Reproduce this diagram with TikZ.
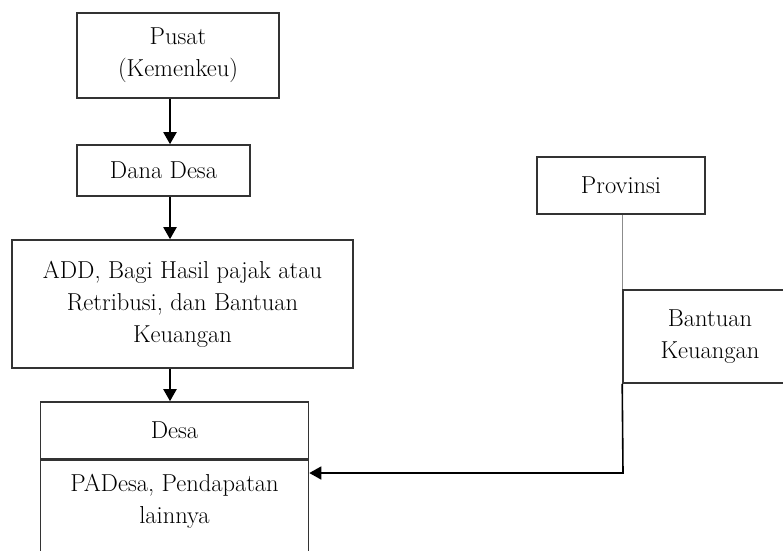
\documentclass[tikz,border=0pt]{standalone}
\usepackage{tikz}
\usetikzlibrary{arrows.meta,positioning}

\begin{document}
\begin{tikzpicture}[x=1pt, y=-1pt, >={Triangle[width=13pt,length=12pt]}, semithick,
  font=\fontsize{24.5}{32}\selectfont,
  kotak/.style={draw=black!80, line width=1.6pt, align=center, inner sep=0pt},
  panah/.style={->, black, line width=2pt}]

\useasboundingbox (0,0) rectangle (783,550);
\clip (0,0) rectangle (783,550);

% sisi kiri
\node [kotak, minimum width=202pt, minimum height=85pt] (pusat) at (178,55.5) {Pusat\\(Kemenkeu)};
\node [kotak, minimum width=173pt, minimum height=51pt] (dana) at (163.5,170.5) {Dana Desa};
\node [kotak, minimum width=341pt, minimum height=128pt] (add) at (182.5,304) {ADD, Bagi Hasil pajak atau\\Retribusi, dan Bantuan\\Keuangan};
\node [kotak, minimum width=268pt, minimum height=57pt] (desa) at (174.5,430.5) {Desa};
\node [kotak, minimum width=268pt, minimum height=111pt, anchor=north, text depth=34pt] (lain) at (desa.south) {PADesa, Pendapatan\\lainnya};

% sisi kanan
\node [kotak, minimum width=168pt, minimum height=57pt] (prov) at (621,185.5) {Provinsi};
\node [kotak, minimum width=174pt, minimum height=93pt] (bantuan) at (710,336.5) {Bantuan\\Keuangan};
\coordinate (belok) at (623,473);

\draw [panah] (pusat.south -| 170,0) -- (dana.north -| 170,0);
\draw [panah] (dana.south -| 170,0) -- (add.north -| 170,0);
\draw [panah] (add.south -| 170,0) -- (desa.north -| 170,0);

\draw [black!45, line width=1.2pt] (prov.south -| bantuan.north west) -- (bantuan.north west);
\draw [panah, line width=1.6pt] (bantuan.south west) -- (belok) -- (belok -| lain.east);
\end{tikzpicture}
\end{document}
